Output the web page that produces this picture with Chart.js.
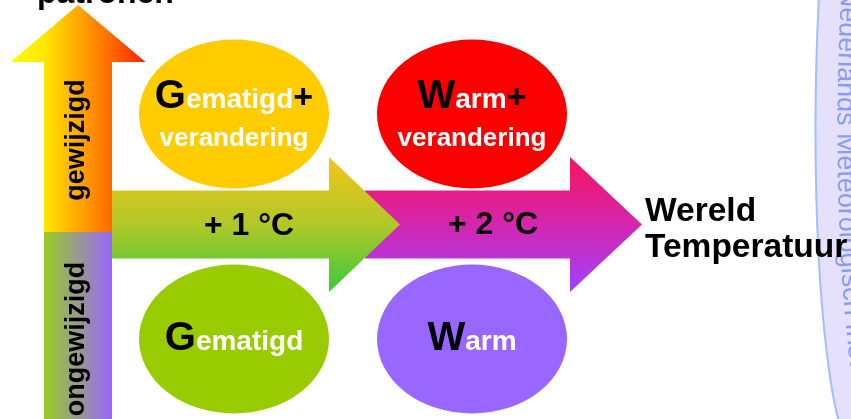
<!DOCTYPE html>
<html>
<head>
<meta charset="utf-8">
<script src="https://cdn.jsdelivr.net/npm/chart.js@4/dist/chart.umd.min.js"></script>
<style>
  html, body { margin: 0; padding: 0; background: #fff; overflow: hidden; }
  #wrap { width: 851px; height: 419px; position: relative; }
</style>
</head>
<body>
<div id="wrap"><canvas id="myChart"></canvas></div>
<script>
// categories
const tempSteps = ['+ 1 °C', '+ 2 °C'];
const patterns = ['ongewijzigd', 'gewijzigd'];
// scenarios (one ellipse each)
const scenarios = ['Gematigd', 'Warm', 'Gematigd', 'Warm'];
const scenarioStep = [1, 2, 1, 2];
const scenarioPattern = [0, 0, 1, 1];
const scenarioExtra = ['', '', 'verandering', 'verandering'];
const scenarioColors = ['#99cc00', '#9966ff', '#ffcc00', '#fa0000'];
// titles
const tempTitle = ['Wereld', 'Temperatuur'];
const patternTitle = 'patronen';
const watermark = 'Nederlands Meteorologisch Instituut';

const FONT = '"Liberation Sans", Arial, sans-serif';

function drawRuns(ctx, parts, cx, y) {
  let w = 0;
  parts.forEach(p => { ctx.font = p[1]; w += ctx.measureText(p[0]).width; });
  let x = cx - w / 2;
  ctx.textAlign = 'left';
  ctx.textBaseline = 'alphabetic';
  parts.forEach(p => {
    ctx.font = p[1];
    ctx.fillStyle = p[2];
    ctx.fillText(p[0], x, y);
    x += ctx.measureText(p[0]).width;
  });
}

function hArrow(ctx, x0, xb, xt, yc, hb, hh) {
  ctx.beginPath();
  ctx.moveTo(x0, yc - hb);
  ctx.lineTo(xb, yc - hb);
  ctx.lineTo(xb, yc - hh);
  ctx.lineTo(xt, yc);
  ctx.lineTo(xb, yc + hh);
  ctx.lineTo(xb, yc + hb);
  ctx.lineTo(x0, yc + hb);
  ctx.closePath();
}

// big lavender logo ellipse, only its left edge shows
const logo = { cx: 855.5, cy: 130, rx: 40, ry: 320 };
function logoEdge(y) {
  const t = (y - logo.cy) / logo.ry;
  return logo.cx - logo.rx * Math.sqrt(Math.max(0, 1 - t * t));
}

const diagram = {
  id: 'diagram',
  beforeDatasetsDraw(chart) {
    const { ctx, height } = chart;
    const xs = chart.scales.x, ys = chart.scales.y;
    const c1 = xs.getPixelForValue(1), c2 = xs.getPixelForValue(2);
    const rowG = ys.getPixelForValue(1), rowU = ys.getPixelForValue(0);
    const mid = (rowG + rowU) / 2;
    ctx.save();

    // watermark
    ctx.beginPath();
    ctx.ellipse(logo.cx, logo.cy, logo.rx, logo.ry, 0, 0, Math.PI * 2);
    ctx.fillStyle = '#e5e1fc';
    ctx.fill();
    ctx.lineWidth = 2;
    ctx.strokeStyle = '#a6bcff';
    ctx.stroke();
    ctx.font = '27px ' + FONT;
    ctx.fillStyle = '#8a9cf0';
    ctx.textAlign = 'left';
    ctx.textBaseline = 'alphabetic';
    let yy = 133 - ctx.measureText('Nederlands ').width;
    for (const ch of watermark) {
      const w = ctx.measureText(ch).width;
      const x = logoEdge(yy) + 22;
      const slope = (logoEdge(yy + 1) - logoEdge(yy - 1)) / 2;
      ctx.save();
      ctx.translate(x, yy);
      ctx.rotate(Math.atan2(1, slope));
      ctx.fillText(ch, 0, 0);
      ctx.restore();
      yy += w;
    }

    // +2 arrow (behind)
    const yc = mid - 2;
    hArrow(ctx, c2 - 107, c2 + 98, c2 + 170, yc, 34, 67.5);
    let g = ctx.createLinearGradient(0, yc - 67.5, 0, yc + 67.5);
    g.addColorStop(0, '#f8145a');
    g.addColorStop(0.5, '#d426ae');
    g.addColorStop(1, '#9e42ff');
    ctx.fillStyle = g;
    ctx.fill();

    // +1 arrow
    hArrow(ctx, c1 - 122, c1 + 95, c1 + 166, yc, 34, 67.5);
    g = ctx.createLinearGradient(0, yc - 67.5, 0, yc + 67.5);
    g.addColorStop(0, '#f5c51a');
    g.addColorStop(0.5, '#b0c828');
    g.addColorStop(1, '#3cc83c');
    ctx.fillStyle = g;
    ctx.fill();

    // vertical arrow
    const vx = c1 - 156, split = mid + 5.5, tip = rowG - 109, hbase = rowG - 52;
    ctx.beginPath();
    ctx.moveTo(vx - 34, split);
    ctx.lineTo(vx - 34, hbase);
    ctx.lineTo(vx - 67.5, hbase);
    ctx.lineTo(vx, tip);
    ctx.lineTo(vx + 67.5, hbase);
    ctx.lineTo(vx + 34, hbase);
    ctx.lineTo(vx + 34, split);
    ctx.closePath();
    g = ctx.createLinearGradient(vx - 67.5, 0, vx + 67.5, 0);
    g.addColorStop(0, '#ffff00');
    g.addColorStop(0.25, '#ffe800');
    g.addColorStop(0.75, '#ff6800');
    g.addColorStop(1, '#ff2000');
    ctx.fillStyle = g;
    ctx.fill();
    ctx.beginPath();
    ctx.rect(vx - 34, split, 68, height - split + 2);
    g = ctx.createLinearGradient(vx - 34, 0, vx + 34, 0);
    g.addColorStop(0, '#99cc22');
    g.addColorStop(1, '#9966ff');
    ctx.fillStyle = g;
    ctx.fill();

    // pattern labels (rotated)
    ctx.fillStyle = '#000';
    ctx.font = 'bold 27px ' + FONT;
    ctx.textAlign = 'center';
    ctx.textBaseline = 'alphabetic';
    [[patterns[1], rowG + 26], [patterns[0], rowU]].forEach(([t, cy]) => {
      ctx.save();
      ctx.translate(vx + 6, cy);
      ctx.rotate(-Math.PI / 2);
      ctx.fillText(t, 0, 0);
      ctx.restore();
    });

    // step labels
    ctx.font = 'bold 32px ' + FONT;
    ctx.fillText(tempSteps[0], c1 + 15, mid + 8.5);
    ctx.fillText(tempSteps[1], c2 + 21, mid + 7.5);

    // axis titles
    ctx.textAlign = 'left';
    ctx.font = 'bold 33.5px ' + FONT;
    ctx.fillText(tempTitle[0], c2 + 173, mid - 5);
    ctx.fillText(tempTitle[1], c2 + 173, mid + 31);
    ctx.font = 'bold 32px ' + FONT;
    ctx.fillText(patternTitle, 37, 3);
    ctx.restore();
  },
  afterDatasetsDraw(chart) {
    const { ctx } = chart;
    const meta = chart.getDatasetMeta(0);
    ctx.save();
    meta.data.forEach((pt, i) => {
      ctx.beginPath();
      ctx.ellipse(pt.x, pt.y, 95, 74.5, 0, 0, Math.PI * 2);
      ctx.fillStyle = scenarioColors[i];
      ctx.fill();
      const name = scenarios[i];
      const head = [[name[0], 'bold 40px ' + FONT, '#000'], [name.slice(1), 'bold 28px ' + FONT, '#fff']];
      if (scenarioExtra[i]) {
        head.push(['+', 'bold 34px ' + FONT, '#000']);
        drawRuns(ctx, head, pt.x, pt.y - 6);
        drawRuns(ctx, [[scenarioExtra[i], 'bold 26px ' + FONT, '#fff']], pt.x, pt.y + 32);
      } else {
        drawRuns(ctx, head, pt.x, pt.y + 11);
      }
    });
    ctx.restore();
  }
};

const ctx = document.getElementById('myChart').getContext('2d');
new Chart(ctx, {
  type: 'scatter',
  data: {
    datasets: [{
      label: 'scenario',
      data: scenarios.map((s, i) => ({ x: scenarioStep[i], y: scenarioPattern[i] })),
      pointRadius: 0,
      pointHoverRadius: 0,
      backgroundColor: scenarioColors
    }]
  },
  options: {
    responsive: true,
    maintainAspectRatio: false,
    animation: false,
    events: [],
    layout: { padding: 0 },
    plugins: { legend: { display: false }, tooltip: { enabled: false } },
    scales: {
      x: { type: 'linear', display: false, min: 0.0168, max: 3.5924 },
      y: { type: 'linear', display: false, min: -0.3556, max: 1.5067 }
    }
  },
  plugins: [diagram]
});
</script>
</body>
</html>
